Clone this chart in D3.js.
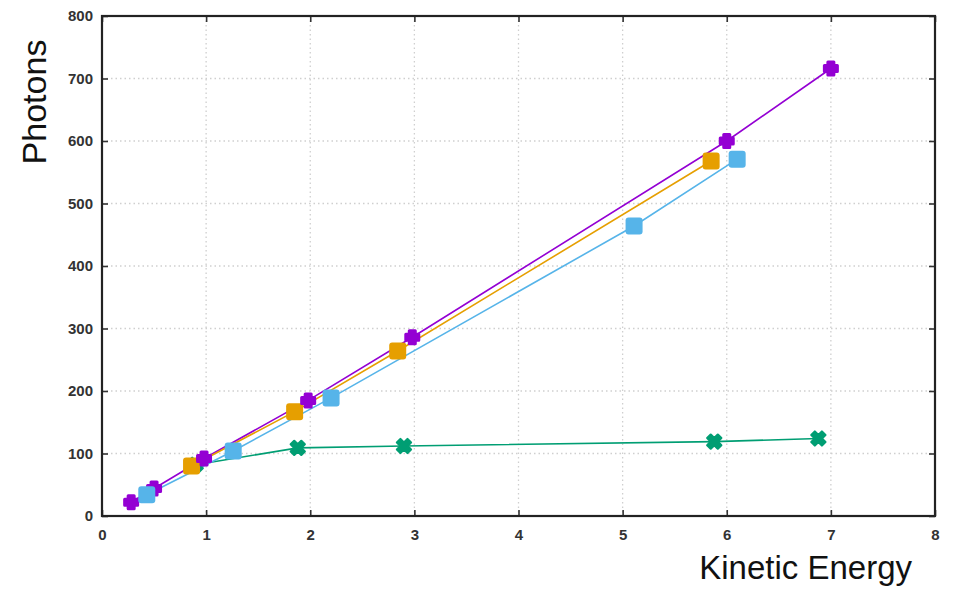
<!DOCTYPE html>
<html><head><meta charset="utf-8">
<script src="https://cdn.jsdelivr.net/npm/d3@7"></script>
<style>body{margin:0;background:#fff}svg{display:block}</style>
</head><body><svg id="c" width="954" height="589"></svg>
<script>
const xTicks=[0,1,2,3,4,5,6,7,8];
const yTicks=[0,100,200,300,400,500,600,700,800];
const purpleX=[0.28,0.5,0.98,1.98,2.98,6.0,7.0];
const purpleY=[22,44,92,185,286,600,716];
const orangeX=[0.86,1.85,2.84,5.85];
const orangeY=[80,167,264,568];
const blueX=[0.43,1.26,2.2,5.11,6.1];
const blueY=[34,104,189,464,571];
const greenX=[0.9,1.88,2.9,5.88,6.88];
const greenY=[82,109,112,119,124];

const svg=d3.select("#c");
const L=102,R=935,T=16,B=516;
const x=d3.scaleLinear().domain([0,8]).range([L,R]);
const y=d3.scaleLinear().domain([0,800]).range([B,T]);

// grid
const g=svg.append("g");
g.selectAll(".vg").data(xTicks.slice(1,-1)).join("line")
 .attr("x1",d=>x(d)).attr("x2",d=>x(d)).attr("y1",T).attr("y2",B)
 .attr("stroke","#cfcfcf").attr("stroke-width",1.3).attr("stroke-dasharray","1.5,3");
g.selectAll(".hg").data(yTicks.slice(1,-1)).join("line")
 .attr("y1",d=>y(d)).attr("y2",d=>y(d)).attr("x1",L).attr("x2",R)
 .attr("stroke","#cfcfcf").attr("stroke-width",1.3).attr("stroke-dasharray","1.5,3");

// axes
const font="'Liberation Sans', Arial, sans-serif";
const xa=svg.append("g").attr("transform",`translate(0,${B})`)
 .call(d3.axisBottom(x).tickValues(xTicks).tickSize(-6).tickPadding(13).tickFormat(d3.format("d")));
const xt=svg.append("g").attr("transform",`translate(0,${T})`)
 .call(d3.axisTop(x).tickValues(xTicks).tickSize(-6).tickFormat(""));
const ya=svg.append("g").attr("transform",`translate(${L},0)`)
 .call(d3.axisLeft(y).tickValues(yTicks).tickSize(-6).tickPadding(9).tickFormat(d3.format("d")));
const yr=svg.append("g").attr("transform",`translate(${R},0)`)
 .call(d3.axisRight(y).tickValues(yTicks).tickSize(-6).tickFormat(""));
[xa,xt,ya,yr].forEach(a=>{
  a.select(".domain").remove();
  a.selectAll(".tick line").attr("stroke","#333").attr("stroke-width",1.6);
  a.selectAll("text").attr("font-family",font).attr("font-size",15).attr("font-weight","bold").attr("fill","#333");
});
svg.append("rect").attr("x",L).attr("y",T).attr("width",R-L).attr("height",B-T)
 .attr("fill","none").attr("stroke","#222").attr("stroke-width",2.2);

// series
const series=[
 {xs:greenX,ys:greenY,c:"#009E73",m:"x"},
 {xs:purpleX,ys:purpleY,c:"#9400D3",m:"plus"},
 {xs:blueX,ys:blueY,c:"#56B4E9",m:"sq"},
 {xs:orangeX,ys:orangeY,c:"#E69F00",m:"sq"}
];
const line=d3.line().x(d=>x(d[0])).y(d=>y(d[1]));
series.forEach(s=>{
  const pts=s.xs.map((v,i)=>[v,s.ys[i]]);
  svg.append("path").datum(pts).attr("d",line).attr("fill","none")
   .attr("stroke",s.c).attr("stroke-width",1.6);
});
const plus="M-3,-6.5 H3 V-3 H6.5 V3 H3 V6.5 H-3 V3 H-6.5 V-3 H-3 Z";
const xmark="M-2.5,-7.5 H2.5 V-2.5 H7.5 V2.5 H2.5 V7.5 H-2.5 V2.5 H-7.5 V-2.5 H-2.5 Z";
const order=[0,3,1,2];
order.forEach(k=>{
  const s=series[k];
  const pts=s.xs.map((v,i)=>[v,s.ys[i]]);
  const gg=svg.append("g");
  pts.forEach(p=>{
    const cx=x(p[0]),cy=y(p[1]);
    if(s.m==="sq"){
      gg.append("rect").attr("x",cx-8.5).attr("y",cy-8.5).attr("width",17).attr("height",17)
       .attr("rx",3).attr("fill",s.c);
    } else if(s.m==="plus"){
      gg.append("path").attr("d",plus).attr("transform",`translate(${cx},${cy})`)
       .attr("fill",s.c).attr("stroke",s.c).attr("stroke-width",3).attr("stroke-linejoin","round");
    } else {
      gg.append("path").attr("d",xmark).attr("transform",`translate(${cx},${cy}) rotate(45)`)
       .attr("fill",s.c).attr("stroke",s.c).attr("stroke-width",2.2).attr("stroke-linejoin","round");
    }
  });
});

// titles
svg.append("text").attr("transform","translate(46,102) rotate(-90)").attr("text-anchor","middle")
 .attr("font-family",font).attr("font-size",34).attr("fill","#111").text("Photons");
svg.append("text").attr("x",912).attr("y",579).attr("text-anchor","end")
 .attr("font-family",font).attr("font-size",33).attr("fill","#111").text("Kinetic Energy");
</script></body></html>
